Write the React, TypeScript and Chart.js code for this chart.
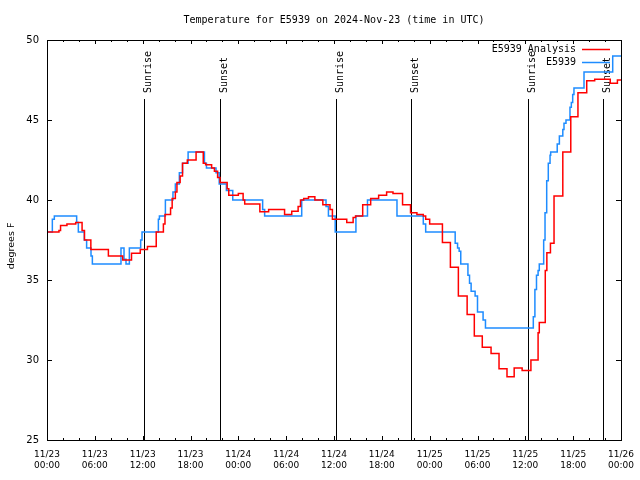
import { useEffect, useRef } from 'react';
import { Chart, registerables } from 'chart.js';

Chart.register(...registerables);

const TITLE = 'Temperature for E5939 on 2024-Nov-23 (time in UTC)';
const Y_LABEL = 'degrees F';
const SERIES_NAMES = ['E5939 Analysis', 'E5939'];
const SERIES_COLORS = ['#ff0000', '#1e8cff'];

const X_TICK_DAYS = ['11/23', '11/23', '11/23', '11/23', '11/24', '11/24', '11/24', '11/24', '11/25', '11/25', '11/25', '11/25', '11/26'];
const X_TICK_TIMES = ['00:00', '06:00', '12:00', '18:00', '00:00', '06:00', '12:00', '18:00', '00:00', '06:00', '12:00', '18:00', '00:00'];

const SUNRISE_HOURS = [12.18, 36.25, 60.38];
const SUNSET_HOURS = [21.74, 45.72, 69.8];

// hours since 2024-11-23 00:00 UTC where the value changes
const ANALYSIS_HOURS = [0, 1.5, 1.7, 2.5, 3.6, 4.4, 4.7, 5.5, 7.7, 9.5, 10.6, 11.7, 12.6, 13.7, 14.6, 14.8, 15.5, 15.7, 16.1, 16.3, 16.7, 17.0, 17.6, 18.7, 19.6, 19.9, 20.65, 21.0, 21.4, 21.7, 22.6, 22.8, 24.0, 24.6, 24.8, 26.7, 27.8, 29.8, 30.7, 31.5, 31.8, 32.2, 32.8, 33.6, 34.6, 35.5, 35.8, 37.6, 38.4, 38.7, 39.6, 40.6, 41.6, 42.6, 43.4, 44.6, 45.6, 46.4, 47.2, 47.5, 48.0, 49.6, 50.6, 51.6, 52.7, 53.6, 54.6, 55.7, 56.7, 57.7, 58.6, 59.6, 60.7, 61.6, 61.75, 62.5, 62.7, 63.15, 63.6, 64.7, 65.7, 66.6, 67.7, 68.7, 70.65, 71.55, 72];
const ANALYSIS_TEMPS = [38, 38.1, 38.4, 38.5, 38.6, 38.1, 37.5, 36.9, 36.5, 36.25, 36.67, 36.9, 37.1, 38, 38.5, 39.1, 39.5, 40.1, 40.5, 41.1, 41.5, 42.3, 42.5, 43, 42.3, 42.2, 42, 41.8, 41.4, 41.1, 40.7, 40.3, 40.4, 40, 39.75, 39.27, 39.4, 39.1, 39.3, 39.6, 40, 40.1, 40.2, 40, 39.7, 39.4, 38.8, 38.6, 38.9, 39, 39.7, 40.1, 40.3, 40.5, 40.4, 39.7, 39.2, 39.1, 39, 38.8, 38.5, 37.35, 35.8, 34, 32.85, 31.5, 30.8, 30.4, 29.45, 28.95, 29.5, 29.35, 30, 31.7, 32.35, 35.6, 36.7, 37.3, 40.25, 43, 45.2, 46.7, 47.45, 47.55, 47.3, 47.5, 47.5];

const OBS_HOURS = [0, 0.67, 0.92, 3.72, 3.93, 4.68, 4.97, 5.52, 5.69, 9.28, 9.66, 9.91, 10.33, 11.75, 11.92, 13.97, 14.1, 14.85, 15.8, 16.1, 16.6, 17.0, 17.7, 19.75, 20.0, 21.2, 21.6, 22.5, 23.3, 27.05, 27.3, 31.95, 35.0, 35.3, 36.15, 38.75, 40.2, 43.9, 47.2, 47.5, 51.2, 51.5, 51.7, 51.9, 52.8, 53.0, 53.2, 53.7, 54.0, 54.7, 55.0, 61.0, 61.2, 61.4, 61.6, 61.75, 62.3, 62.47, 62.68, 62.88, 63.1, 63.18, 64.0, 64.27, 64.7, 64.85, 65.1, 65.6, 65.77, 65.94, 66.1, 67.36, 70.96, 72];
const OBS_TEMPS = [38, 38.8, 39, 38.6, 38, 37.5, 37, 36.5, 36, 37, 36.3, 36, 37, 37.5, 38, 38.8, 39, 40, 40.5, 41, 41.7, 42.3, 43, 42.3, 42, 41.7, 41, 40.6, 40, 39.4, 39, 40, 39.6, 39, 38, 39, 40, 39, 38.5, 38, 37.3, 37, 36.8, 36, 35.3, 34.8, 34.3, 34, 33, 32.5, 32, 32.7, 34.4, 35.3, 35.6, 36, 37.5, 39.2, 41.2, 42.3, 42.8, 43, 43.5, 44, 44.4, 44.8, 45, 45.8, 46.1, 46.6, 47, 48, 49, 49];

const MONO = '"DejaVu Sans Mono", monospace';
const SANS = '"DejaVu Sans", sans-serif';

const gnuplotPlugin = {
  id: 'gnuplotDecor',
  beforeDatasetsDraw(chart: any) {
    const { ctx, chartArea, scales } = chart;
    const x = scales.x;
    ctx.save();
    ctx.strokeStyle = '#000';
    ctx.lineWidth = 1;
    ctx.fillStyle = '#000';
    ctx.font = `10px ${MONO}`;
    const draw = (h: number, label: string) => {
      const px = Math.round(x.getPixelForValue(h)) + 0.5;
      ctx.beginPath();
      ctx.moveTo(px, 99);
      ctx.lineTo(px, chartArea.bottom);
      ctx.stroke();
      ctx.save();
      ctx.translate(px + 6, 93);
      ctx.rotate(-Math.PI / 2);
      ctx.textAlign = 'left';
      ctx.textBaseline = 'alphabetic';
      ctx.fillText(label, 0, 0);
      ctx.restore();
    };
    SUNRISE_HOURS.forEach((h) => draw(h, 'Sunrise'));
    SUNSET_HOURS.forEach((h) => draw(h, 'Sunset'));
    ctx.restore();
  },
  afterDraw(chart: any) {
    const { ctx, chartArea, scales } = chart;
    const { left, right, top, bottom } = chartArea;
    const x = scales.x;
    const y = scales.y;
    ctx.save();
    ctx.strokeStyle = '#000';
    ctx.lineWidth = 1;
    // frame
    ctx.strokeRect(Math.round(left) + 0.5, Math.round(top) + 0.5, Math.round(right - left), Math.round(bottom - top));
    // ticks (inward on all four sides)
    ctx.beginPath();
    for (let h = 0; h <= 72; h += 2) {
      const px = Math.round(x.getPixelForValue(h)) + 0.5;
      const len = h % 6 === 0 ? 4 : 2;
      ctx.moveTo(px, bottom);
      ctx.lineTo(px, bottom - len);
      ctx.moveTo(px, top);
      ctx.lineTo(px, top + len);
    }
    for (let t = 25; t <= 50; t += 5) {
      const py = Math.round(y.getPixelForValue(t)) + 0.5;
      ctx.moveTo(left, py);
      ctx.lineTo(left + 5, py);
      ctx.moveTo(right, py);
      ctx.lineTo(right - 5, py);
    }
    ctx.stroke();
    // title
    ctx.fillStyle = '#000';
    ctx.font = `10px ${MONO}`;
    ctx.textAlign = 'center';
    ctx.textBaseline = 'middle';
    ctx.fillText(TITLE, (left + right) / 2, 20);
    // y label
    ctx.save();
    ctx.translate(12, 246);
    ctx.rotate(-Math.PI / 2);
    ctx.font = `9.5px ${SANS}`;
    ctx.fillText(Y_LABEL, 0, 0);
    ctx.restore();
    // legend
    ctx.font = `10px ${MONO}`;
    ctx.textAlign = 'right';
    SERIES_NAMES.forEach((name, i) => {
      const ly = 49 + i * 13;
      ctx.fillStyle = '#000';
      ctx.fillText(name, 576, ly);
      ctx.strokeStyle = SERIES_COLORS[i];
      ctx.lineWidth = 1.5;
      ctx.beginPath();
      ctx.moveTo(582, ly + 0.5);
      ctx.lineTo(610, ly + 0.5);
      ctx.stroke();
    });
    ctx.restore();
  },
};

export default function App() {
  const canvasRef = useRef<HTMLCanvasElement | null>(null);

  useEffect(() => {
    document.body.style.margin = '0';
    const canvas = canvasRef.current;
    if (!canvas) return;
    const chart = new Chart(canvas, {
      type: 'line',
      data: {
        datasets: [
          {
            label: SERIES_NAMES[0],
            data: ANALYSIS_HOURS.map((h, i) => ({ x: h, y: ANALYSIS_TEMPS[i] })),
            borderColor: SERIES_COLORS[0],
            borderWidth: 1.5,
            stepped: true,
            pointRadius: 0,
            fill: false,
          },
          {
            label: SERIES_NAMES[1],
            data: OBS_HOURS.map((h, i) => ({ x: h, y: OBS_TEMPS[i] })),
            borderColor: SERIES_COLORS[1],
            borderWidth: 1.5,
            stepped: true,
            pointRadius: 0,
            fill: false,
          },
        ],
      },
      options: {
        animation: false,
        responsive: false,
        maintainAspectRatio: false,
        layout: { padding: { top: 40, right: 19, left: 0, bottom: 0 } },
        plugins: {
          legend: { display: false },
          title: { display: false },
          tooltip: { enabled: false },
        },
        scales: {
          x: {
            type: 'linear',
            min: 0,
            max: 72,
            grid: { display: false, drawTicks: false },
            border: { display: false },
            ticks: {
              stepSize: 6,
              autoSkip: false,
              maxRotation: 0,
              padding: 9,
              color: '#000',
              font: { family: SANS, size: 9, lineHeight: 1.25 },
              callback: (v: any) => {
                const k = Math.round(Number(v) / 6);
                return [X_TICK_DAYS[k], X_TICK_TIMES[k]];
              },
            },
            afterFit: (s: any) => {
              s.height = 40;
              s.paddingLeft = 0;
              s.paddingRight = 0;
            },
          },
          y: {
            min: 25,
            max: 50,
            grid: { display: false, drawTicks: false },
            border: { display: false },
            ticks: {
              stepSize: 5,
              padding: 8,
              color: '#000',
              font: { family: SANS, size: 10 },
            },
            afterFit: (s: any) => {
              s.width = 47;
              s.paddingTop = 0;
              s.paddingBottom = 0;
            },
          },
        },
      },
      plugins: [gnuplotPlugin],
    });
    return () => chart.destroy();
  }, []);

  return <canvas ref={canvasRef} width={640} height={480} style={{ display: 'block' }} />;
}
